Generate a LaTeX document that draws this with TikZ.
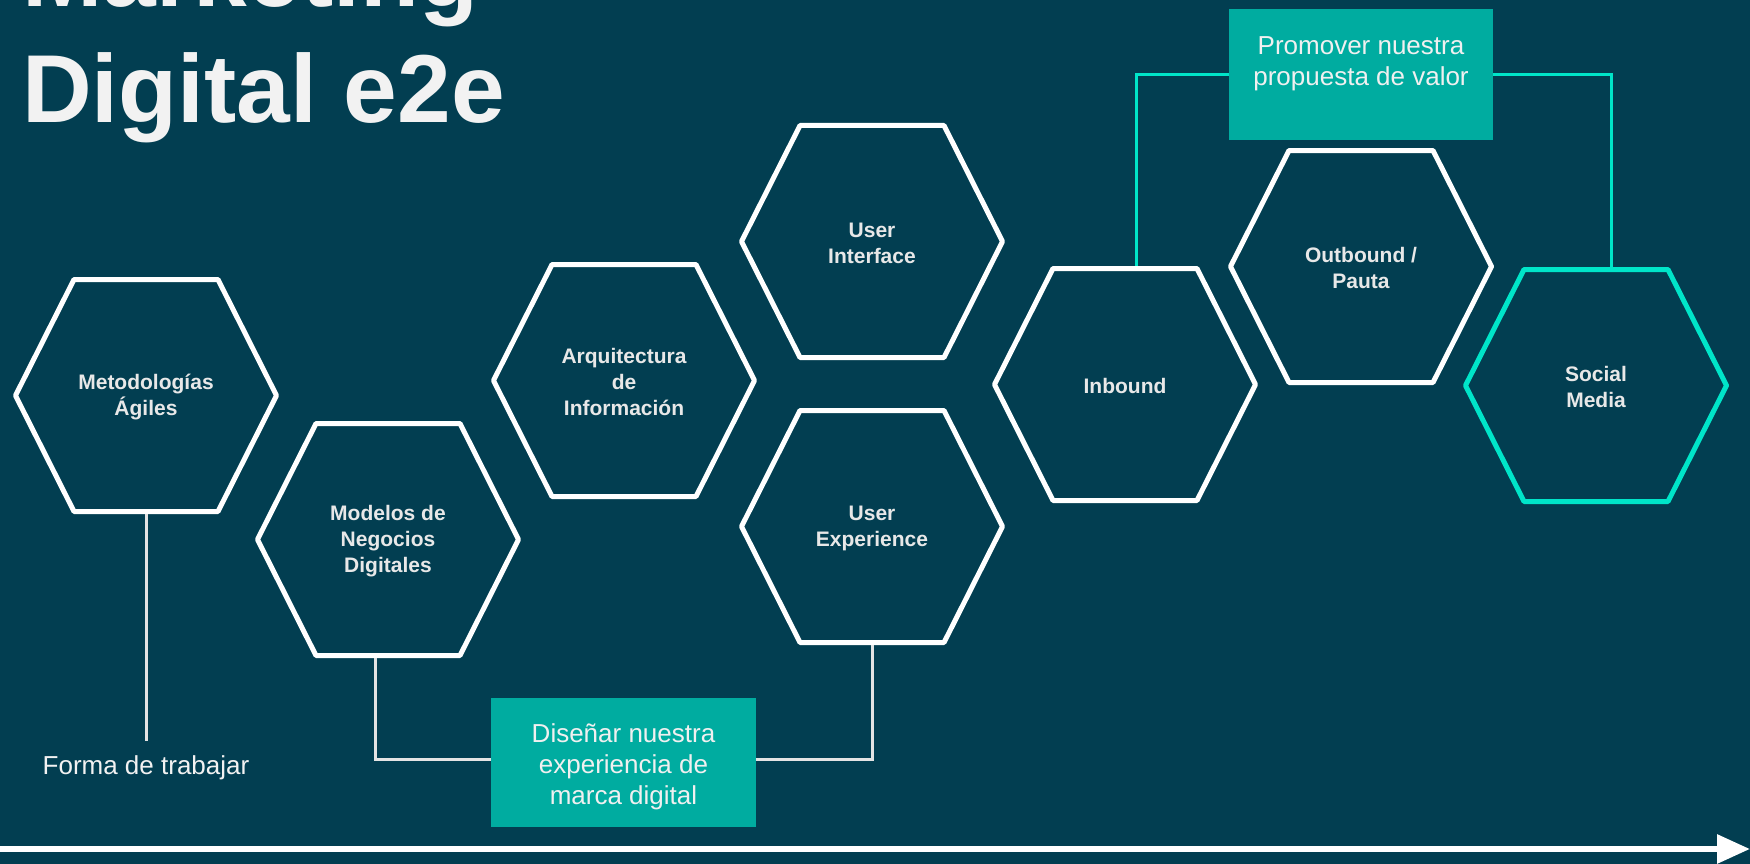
\documentclass[tikz,border=0pt]{standalone}
\usepackage{fontspec}
\setmainfont{Liberation Sans}
\usetikzlibrary{arrows.meta,calc}
\definecolor{bg}{HTML}{023E51}
\definecolor{tealfill}{HTML}{00ACA0}
\definecolor{cyanline}{HTML}{00E5C9}
\definecolor{titletext}{HTML}{F2F2F2}
\definecolor{hextext}{HTML}{E8E8E8}
\definecolor{boxtext}{HTML}{F0F0F0}
\definecolor{lineg}{HTML}{E4E4E4}
\newcommand\hexpath[2]{%
  \draw[#2] ($(#1)+(-130.5,-1.5)$) -- ($(#1)+(-72,-117.5)$) -- ($(#1)+(72,-117.5)$)
    -- ($(#1)+(130.5,-1.5)$) -- ($(#1)+(72,114.5)$) -- ($(#1)+(-72,114.5)$) -- cycle;}
\begin{document}
\begin{tikzpicture}[x=1pt,y=-1pt,
  hexlabel/.style={inner sep=0pt, font=\bfseries\fontsize{21}{26}\selectfont,
    text=hextext, align=center},
  hexw/.style={draw=white, line width=5pt, line join=round},
  hexc/.style={draw=cyanline, line width=5pt, line join=round},
  tealbox/.style={fill=tealfill, inner sep=0pt, text=boxtext,
    font=\fontsize{26}{31}\selectfont, align=center},
  wline/.style={draw=lineg, line width=3pt},
  cline/.style={draw=cyanline, line width=3pt}]
\fill[bg] (0,0) rectangle (1750,864);
\useasboundingbox (0,0) rectangle (1750,864);
\clip (0,0) rectangle (1750,864);

% title
\node[anchor=base west, inner sep=0pt, text=titletext, align=left,
  font=\bfseries\fontsize{96.5}{116}\selectfont] (title) at (22,123) {Marketing\\Digital e2e};

% hexagons
\node[hexlabel] (h1) at (146,397) {Metodologías\\Ágiles};
\node[hexlabel] (h2) at (388,541) {Modelos de\\Negocios\\Digitales};
\node[hexlabel] (h3) at (624,382) {Arquitectura\\de\\Información};
\node[hexlabel] (h4) at (872,243) {User\\Interface};
\node[hexlabel] (h5) at (872,528) {User\\Experience};
\node[hexlabel] (h6) at (1125,386) {Inbound};
\node[hexlabel] (h7) at (1361,268) {Outbound /\\Pauta};
\node[hexlabel] (h8) at (1596,387) {Social\\Media};
\hexpath{h1}{hexw}
\hexpath{h2}{hexw}
\hexpath{h3}{hexw}
\hexpath{h4}{hexw}
\hexpath{h5}{hexw}
\hexpath{h6}{hexw}
\hexpath{h7}{hexw}
\hexpath{h8}{hexc}

% boxes
\node[tealbox, minimum width=264pt, minimum height=131pt] (pro) at (1361,74.5)
  {\parbox[c][131pt][t]{264pt}{\centering\vspace*{27.5pt}Promover nuestra\\propuesta de valor}};
\node[tealbox, minimum width=265pt, minimum height=129pt] (dis) at (623.5,762.5)
  {\parbox[c][129pt][c]{265pt}{\centering\vspace*{9pt}Diseñar nuestra\\experiencia de\\marca digital}};

% forma de trabajar
\node[text=titletext, font=\fontsize{26}{31}\selectfont, inner xsep=0pt, inner ysep=15pt]
  (forma) at (146,768) {Forma de trabajar};

% connectors
\draw[wline] ($(h1)+(0,117)$) -- (forma.north);
\draw[wline] ($(h2)+(-13,117)$) |- ($(dis.west)+(0,-3.5)$);
\draw[wline] ($(dis.east)+(0,-3.5)$) -| ($(h5)+(0,117)$);
\draw[cline] (pro.west) -| ($(h6)+(11,-120)$);
\draw[cline] (pro.east) -| ($(h8)+(15,-120)$);

% time arrow
\coordinate (tstart) at (0,849);
\coordinate (tend) at (1750,849);
\draw[white, line width=6pt, -{Triangle[length=33pt,width=28pt]}] (tstart) -- (tend);
\end{tikzpicture}
\end{document}
